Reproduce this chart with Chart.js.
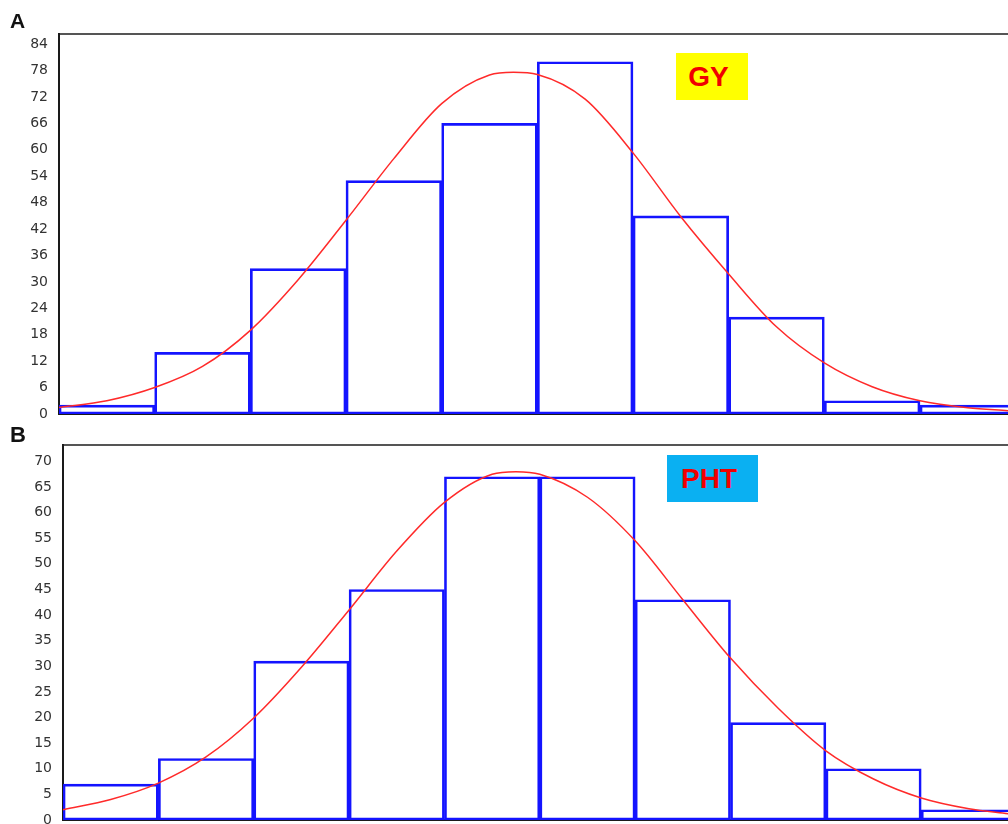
<!DOCTYPE html>
<html>
<head>
<meta charset="utf-8">
<script src="https://cdn.jsdelivr.net/npm/chart.js@4.4.0/dist/chart.umd.min.js"></script>
<style>
    html, body { margin: 0; padding: 0; background: #fff; overflow: hidden; width: 1008px; height: 824px; }
    .panel { position: absolute; left: 0; }
    .letter { position: absolute; font: bold 21px "Liberation Sans", Arial, sans-serif; line-height: 1; color: #111; }
    .tag {
        position: absolute; display: flex; align-items: center; justify-content: center;
        box-sizing: border-box; padding-right: 7px; height: 47px;
        font: bold 28px "Liberation Sans", Arial, sans-serif; line-height: 1; color: #f00000;
    }
</style>
</head>
<body>
<div class="panel" style="top:0;width:1008px;height:434px"><canvas id="chartA" width="1008" height="434"></canvas></div>
<div class="panel" style="top:424px;width:1008px;height:420px"><canvas id="chartB" width="1008" height="420"></canvas></div>
<div class="letter" style="left:10px;top:10px">A</div>
<div class="letter" style="left:10px;top:424px;font-size:22px">B</div>
<div class="tag" style="left:676px;top:53px;width:72px;background:#ffff00">GY</div>
<div class="tag" style="left:667px;top:455px;width:91px;background:#0ab0f2">PHT</div>

<script>
// bin centres of the histograms (in bin units)
const binCenters = [0.5, 1.5, 2.5, 3.5, 4.5, 5.5, 6.5, 7.5, 8.5, 9.5];

// A - GY
const gyCounts = [2, 14, 33, 53, 66, 80, 45, 22, 3, 2];
// B - PHT
const phtCounts = [7, 12, 31, 45, 67, 67, 43, 19, 10, 2];

// fitted curves
const curveX = [0, 0.5, 1, 1.5, 2, 2.5, 3, 3.5, 4, 4.5, 4.75, 5, 5.5, 6, 6.5, 7, 7.5, 8, 8.5, 9, 9.5, 9.92];
const gyCurve = [1.5, 3.0, 6.0, 10.8, 19.0, 30.5, 44.0, 58.0, 70.5, 77.0, 77.6, 77.1, 71.5, 59.3, 44.8, 31.8, 19.8, 11.6, 6.2, 3.0, 1.4, 0.75];
const phtCurve = [2.0, 4.0, 7.2, 12.3, 19.9, 29.8, 41.0, 52.5, 62.0, 67.5, 68.0, 67.5, 63.0, 54.5, 43.0, 31.6, 21.8, 13.5, 8.0, 4.3, 2.2, 1.2];

function drawPanel(id, counts, curveY, o) {
    const bars = binCenters.map((x, i) => ({ x: x, y: counts[i] }));
    const curve = curveX.map((x, i) => ({ x: x, y: curveY[i] }));

    return new Chart(document.getElementById(id), {
        type: 'bar',
        data: {
            datasets: [
                {
                    type: 'line',
                    data: curve,
                    xAxisID: 'x',
                    borderColor: '#ff2a2a',
                    borderWidth: 1.5,
                    pointRadius: 0,
                    cubicInterpolationMode: 'monotone',
                    fill: false,
                    order: 0
                },
                {
                    type: 'bar',
                    data: bars,
                    xAxisID: 'x',
                    borderColor: '#1414ff',
                    borderWidth: 2,
                    backgroundColor: 'rgba(0,0,0,0)',
                    borderSkipped: false,
                    barPercentage: 1,
                    categoryPercentage: 1,
                    order: 1
                }
            ]
        },
        options: {
            responsive: false,
            animation: false,
            events: [],
            layout: { padding: 0 },
            plugins: {
                legend: { display: false },
                tooltip: { enabled: false },
                title: { display: false }
            },
            scales: {
                x: {
                    type: 'linear',
                    position: 'bottom',
                    min: 0,
                    max: o.xMax,
                    offset: false,
                    grid: { display: false, drawTicks: false },
                    ticks: { display: false, stepSize: 1, includeBounds: false },
                    border: { color: '#1a1a1a', width: 2 },
                    afterFit: s => { s.height = o.bottom; }
                },
                xTop: {
                    type: 'linear',
                    position: 'top',
                    min: 0,
                    max: 1,
                    grid: { display: false, drawTicks: false },
                    ticks: { display: false },
                    border: { color: '#555', width: 2 },
                    afterFit: s => { s.height = o.top; }
                },
                y: {
                    type: 'linear',
                    min: 0,
                    max: o.yMax,
                    grid: { display: false, drawTicks: false },
                    border: { color: '#1a1a1a', width: 2 },
                    ticks: {
                        stepSize: o.step,
                        includeBounds: false,
                        padding: 11,
                        color: '#333',
                        font: { family: 'DejaVu Sans', size: 14 }
                    },
                    afterFit: s => { s.width = o.left; }
                }
            }
        }
    });
}

drawPanel('chartA', gyCounts, gyCurve, { left: 59, top: 34, bottom: 20, xMax: 9.92, yMax: 86.3, step: 6 });
drawPanel('chartB', phtCounts, phtCurve, { left: 63, top: 21, bottom: 24, xMax: 9.91, yMax: 73.2, step: 5 });
</script>
</body>
</html>
